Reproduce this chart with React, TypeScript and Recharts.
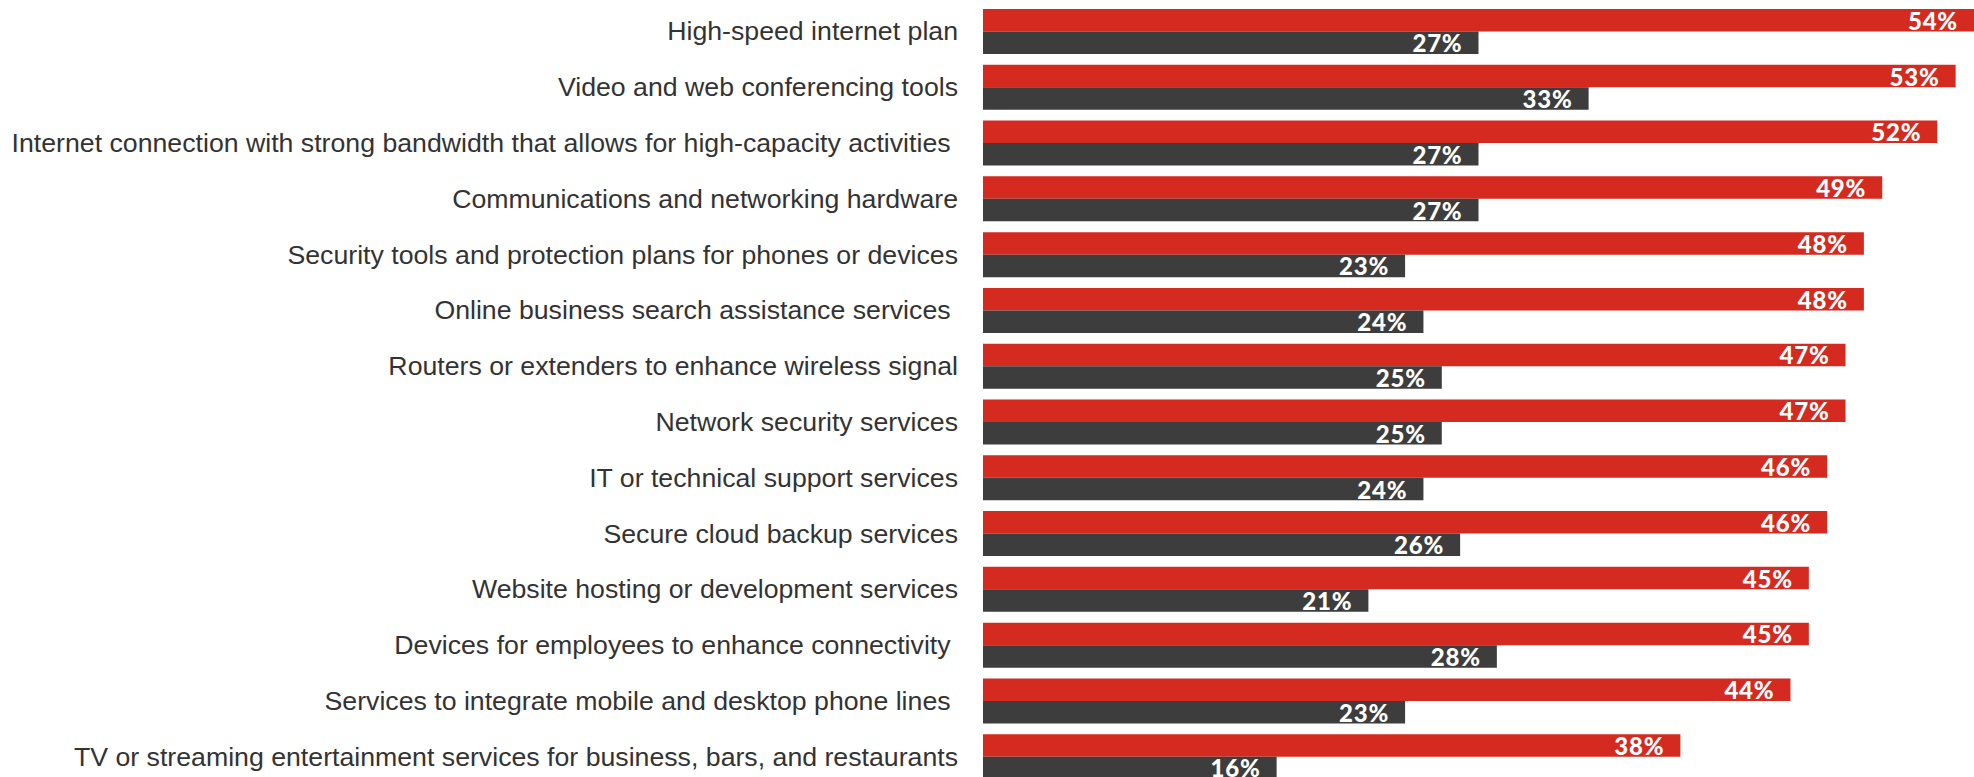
import React from "react";
import { BarChart, Bar, XAxis, YAxis, LabelList } from "recharts";

const categories = [
	"High-speed internet plan",
	"Video and web conferencing tools",
	"Internet connection with strong bandwidth that allows for high-capacity activities ",
	"Communications and networking hardware",
	"Security tools and protection plans for phones or devices",
	"Online business search assistance services ",
	"Routers or extenders to enhance wireless signal",
	"Network security services",
	"IT or technical support services",
	"Secure cloud backup services",
	"Website hosting or development services",
	"Devices for employees to enhance connectivity ",
	"Services to integrate mobile and desktop phone lines ",
	"TV or streaming entertainment services for business, bars, and restaurants",
];

const shareNow = [54, 53, 52, 49, 48, 48, 47, 47, 46, 46, 45, 45, 44, 38];
const sharePrior = [27, 33, 27, 27, 23, 24, 25, 25, 24, 26, 21, 28, 23, 16];

const data = categories.map((name, i) => ({
	name,
	now: shareNow[i],
	prior: sharePrior[i],
}));

const RED = "#d42a1f";
const DARK = "#3d3d3d";

const fmtPct = (v: any) => `${v}%`;

const CategoryTick = (props: any) => {
	const { x, y, payload } = props;
	return (
		<text
			x={x}
			y={y}
			dy="0.32em"
			textAnchor="end"
			fill="#333333"
			style={{
				fontFamily: "'Liberation Sans', Arial, sans-serif",
				fontSize: 26.7,
				whiteSpace: "pre",
			}}
		>
			{payload.value}
		</text>
	);
};

const valueLabelStyle = {
	fill: "#ffffff",
	fontFamily: "Lato, 'Open Sans', sans-serif",
	fontWeight: 900,
	fontSize: 24,
	letterSpacing: 0.8,
};

export default function App() {
	return (
		<div
			style={{
				position: "absolute",
				left: 0,
				top: 0,
				width: 1974,
				height: 777,
				overflow: "hidden",
				background: "#ffffff",
			}}
		>
			<BarChart
				width={1974}
				height={785}
				data={data}
				layout="vertical"
				margin={{ top: 4, right: 0, bottom: 0, left: 0 }}
				barSize={22.5}
				barGap={0}
			>
				<XAxis type="number" domain={[0, 54]} hide />
				<YAxis
					type="category"
					dataKey="name"
					width={983}
					axisLine={false}
					tickLine={false}
					tickSize={0}
					tickMargin={25}
					interval={0}
					tick={<CategoryTick />}
				/>
				<Bar dataKey="now" fill={RED} isAnimationActive={false}>
					<LabelList
						dataKey="now"
						position="insideRight"
						offset={16}
						formatter={fmtPct}
						style={valueLabelStyle}
						dy={1}
					/>
				</Bar>
				<Bar dataKey="prior" fill={DARK} isAnimationActive={false}>
					<LabelList
						dataKey="prior"
						position="insideRight"
						offset={16}
						formatter={fmtPct}
						style={valueLabelStyle}
						dy={1}
					/>
				</Bar>
			</BarChart>
		</div>
	);
}
